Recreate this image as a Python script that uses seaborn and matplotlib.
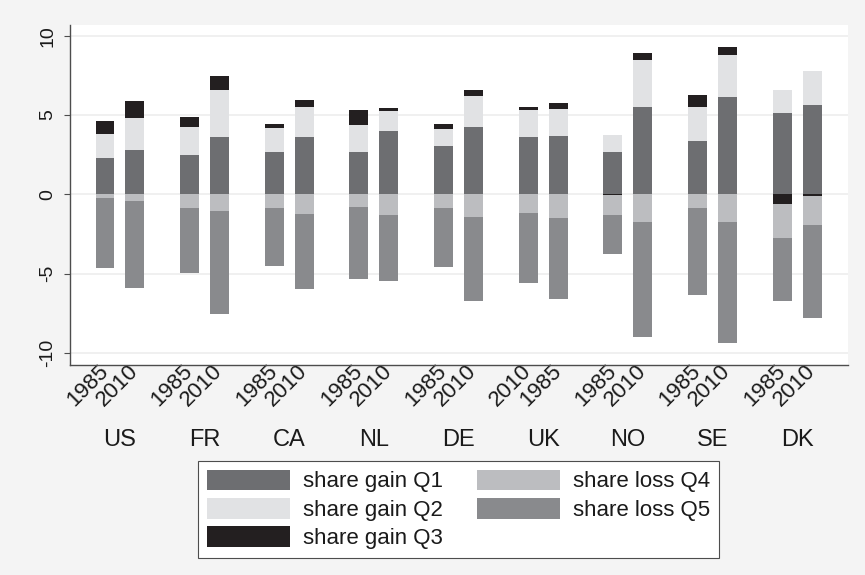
import pandas as pd
import matplotlib.pyplot as plt
import seaborn as sns
from matplotlib.patches import Patch

# -------------------------------------------------------------------
# Data
# -------------------------------------------------------------------

countries = ["US", "FR", "CA", "NL", "DE", "UK", "NO", "SE", "DK"]
year_labels = ["1985", "2010", "1985", "2010", "1985", "2010", "1985", "2010", "1985", "2010",
               "2010", "1985", "1985", "2010", "1985", "2010", "1985", "2010"]

gain_q1 = [2.31, 2.80, 2.48, 3.62, 2.69, 3.62, 2.67, 4.02, 3.03, 4.23,
           3.62, 3.70, 2.69, 5.51, 3.36, 6.14, 5.15, 5.66]
gain_q2 = [1.52, 1.99, 1.77, 2.94, 1.47, 1.91, 1.68, 1.24, 1.07, 1.95,
           1.72, 1.70, 1.03, 2.94, 2.13, 2.65, 1.45, 2.12]
gain_q3 = [0.82, 1.08, 0.63, 0.91, 0.26, 0.42, 0.95, 0.17, 0.32, 0.40,
           0.15, 0.36, -0.03, 0.45, 0.78, 0.48, -0.63, -0.08]
loss_q4 = [-0.25, -0.40, -0.84, -1.07, -0.84, -1.26, -0.78, -1.30, -0.84, -1.43,
           -1.20, -1.49, -1.30, -1.77, -0.84, -1.77, -2.12, -1.87]
loss_q5 = [-4.42, -5.49, -4.10, -6.46, -3.66, -4.73, -4.58, -4.15, -3.72, -5.28,
           -4.37, -5.13, -2.46, -7.25, -5.53, -7.59, -3.98, -5.88]

series_names = ["share gain Q1", "share gain Q2", "share gain Q3", "share loss Q4", "share loss Q5"]
series_colors = ["#6d6e71", "#e1e2e4", "#231f20", "#bcbdc0", "#898a8d"]

# -------------------------------------------------------------------
# Build stacked layers (positives stack up, negatives stack down)
# -------------------------------------------------------------------

df = pd.DataFrame({
    "country": [c for c in countries for _ in range(2)],
    "slot": ["a", "b"] * len(countries),
    "q1": gain_q1, "q2": gain_q2, "q3": gain_q3, "q4": loss_q4, "q5": loss_q5,
})
q3_pos = df["q3"].clip(lower=0)
q3_neg = df["q3"].clip(upper=0)
df["top_q3"] = df["q1"] + df["q2"] + q3_pos
df["top_q2"] = df["q1"] + df["q2"]
df["top_q1"] = df["q1"]
df["bot_q5"] = q3_neg + df["q4"] + df["q5"]
df["bot_q4"] = q3_neg + df["q4"]
df["bot_q3"] = q3_neg

layers = [("top_q3", series_colors[2]), ("top_q2", series_colors[1]), ("top_q1", series_colors[0]),
          ("bot_q5", series_colors[4]), ("bot_q4", series_colors[3]), ("bot_q3", series_colors[2])]

# -------------------------------------------------------------------
# Plot
# -------------------------------------------------------------------

sns.set_theme(style="white")
plt.rcParams['font.family'] = ['Liberation Sans', 'DejaVu Sans']

bg = "#f4f4f4"
axis_col = "#4d4d4d"
text_col = "#1a1a1a"

fig = plt.figure(figsize=(8.65, 5.75), dpi=100, facecolor=bg)
ax = fig.add_axes([0.0809, 0.3652, 0.8994, 0.5913])
ax.set_facecolor("white")

for col, color in layers:
    sns.barplot(data=df, x="country", y=col, hue="slot", palette=[color, color],
                width=0.708, gap=0.37, dodge=True, legend=False, errorbar=None,
                linewidth=0, saturation=1, ax=ax, order=countries, zorder=3)

ax.set_xlim(-0.59, 8.6)
ax.set_ylim(-10.77, 10.68)
ax.set_xlabel("")
ax.set_ylabel("")

# y axis
ax.set_yticks([-10, -5, 0, 5, 10])
ax.set_yticklabels(["-10", "-5", "0", "5", "10"], rotation=90, va="center", fontsize=14)
ax.tick_params(axis="y", direction="out", length=4, width=0.8, color=axis_col,
               pad=6, left=True, labelcolor=text_col)
ax.yaxis.grid(True, color="#efefef", linewidth=1.3, zorder=0)
ax.set_axisbelow(True)

# x axis: countries as major labels, years as minor labels
ax.set_xticks(range(len(countries)))
ax.set_xticklabels(countries, fontsize=17, color=text_col)
ax.tick_params(axis="x", which="major", length=0, pad=46)
offsets = [-0.177, 0.177]
minor_pos = [i + o for i in range(len(countries)) for o in offsets]
ax.set_xticks(minor_pos, minor=True)
ax.set_xticklabels(year_labels, minor=True, rotation=45, ha="right",
                   rotation_mode="anchor", fontsize=16, color=text_col)
ax.tick_params(axis="x", which="minor", length=0, pad=2)
for lab in ax.get_xticklabels(minor=True):
    lab.set_va("center")

for side in ["top", "right"]:
    ax.spines[side].set_visible(False)
for side in ["left", "bottom"]:
    ax.spines[side].set_color(axis_col)
    ax.spines[side].set_linewidth(1.0)

# legend
handles = [Patch(facecolor=c, edgecolor="none") for c in series_colors]
leg = fig.legend(handles, series_names, loc="center", bbox_to_anchor=(0.530, 0.114),
                 ncol=2, fontsize=16, frameon=True, fancybox=False, framealpha=1,
                 handlelength=3.75, handleheight=1.05, labelspacing=0.25,
                 handletextpad=0.55, columnspacing=1.55, borderpad=0.4,
                 labelcolor=text_col)
leg.get_frame().set_edgecolor(axis_col)
leg.get_frame().set_linewidth(0.8)
leg.get_frame().set_facecolor("white")

fig.savefig("out.png", dpi=100, facecolor=bg)
